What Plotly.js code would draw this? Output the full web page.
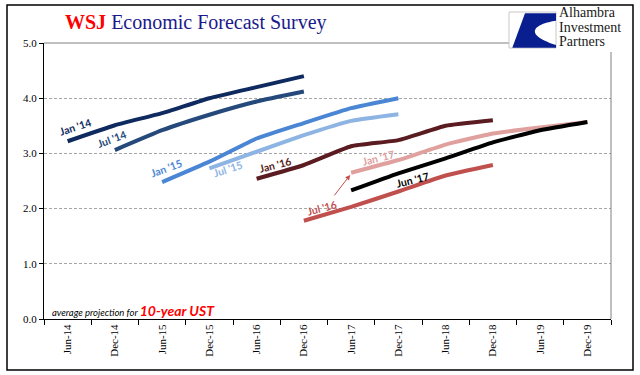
<!DOCTYPE html>
<html><head><meta charset="utf-8">
<script src="https://cdn.plot.ly/plotly-3.0.1.min.js"></script>
<style>html,body{margin:0;padding:0;background:#fff}#chart{width:640px;height:375px}</style>
</head><body><div id="chart"></div>
<script>
// ---- data ----
const categories = ["Jun-14","Dec-14","Jun-15","Dec-15","Jun-16","Dec-16","Jun-17","Dec-17","Jun-18","Dec-18","Jun-19","Dec-19"];
const seriesNames = ["Jan '14","Jul '14","Jan '15","Jul '15","Jan '16","Jul '16","Jan '17","Jun '17"];
const jan14 = [3.22, 3.51, 3.73, 4.00, 4.20, 4.40, null, null, null, null, null, null];
const jul14 = [null, 3.06, 3.42, 3.70, 3.94, 4.12, null, null, null, null, null, null];
const jan15 = [null, null, 2.48, 2.85, 3.27, 3.55, 3.82, 4.00, null, null, null, null];
const jul15 = [null, null, null, 2.73, 3.03, 3.33, 3.59, 3.71, null, null, null, null];
const jan16 = [null, null, null, null, 2.54, 2.79, 3.13, 3.24, 3.50, 3.60, null, null];
const jul16 = [null, null, null, null, null, 1.78, 2.03, 2.31, 2.60, 2.79, null, null];
const jan17 = [null, null, null, null, null, null, 2.65, 2.88, 3.16, 3.36, 3.47, 3.57];
const jun17 = [null, null, null, null, null, null, 2.33, 2.64, 2.91, 3.20, 3.42, 3.57];
const yTicks = [0, 1, 2, 3, 4, 5];
const logoLines = ["Alhambra", "Investment", "Partners"];

const allSeries = [jan14, jul14, jan15, jul15, jan16, jul16, jan17, jun17];
const colors = ["#0E2A5E", "#24497A", "#4A86D4", "#8DB4E2", "#5A1C20", "#C0504D", "#E0A09E", "#000000"];

// pixel helpers for layout (plot area: x 44..611, y 43..319)
const L = 44, R = 611, T = 43, B = 319;
const px = x => (x - L) / (R - L);
const py = y => (B - y) / (B - T);

const traces = allSeries.map((vals, i) => ({
  type: 'scatter', mode: 'lines', x: categories, y: vals, name: seriesNames[i],
  line: {color: colors[i], width: 4, shape: 'spline', smoothing: 0.4},
  connectgaps: false, hoverinfo: 'skip', showlegend: false
}));

// label placement (category index, value, angle)
const labelPos = [
  [0.16, 3.48, -18], [0.94, 3.26, -20], [2.1, 2.74, -20], [3.39, 2.72, -18],
  [4.39, 2.79, -14], [5.38, 2.01, -15], [6.57, 2.92, -14], [7.29, 2.52, -14]
];
const annotations = labelPos.map((p, i) => ({
  xref: 'x', yref: 'y', x: p[0], y: p[1], text: '<b>' + seriesNames[i] + '</b>',
  showarrow: false, textangle: p[2],
  font: {family: 'Lato, sans-serif', size: 10.5, color: colors[i]}
}));
annotations.push({
  xref: 'x', yref: 'y', x: 5.98, y: 2.61, ax: -17, ay: 22, text: '',
  showarrow: true, arrowhead: 2, arrowsize: 1, arrowwidth: 1, arrowcolor: '#C0504D'
});
annotations.push({
  xref: 'paper', yref: 'paper', x: px(63), y: py(23), xanchor: 'left', yanchor: 'middle',
  text: '<span style="color:#FF0000"><b>WSJ</b></span> Economic Forecast Survey',
  showarrow: false, font: {family: 'Liberation Serif, serif', size: 20, color: '#1A1A8C'}
});
annotations.push({
  xref: 'paper', yref: 'paper', x: px(50), y: py(310), xanchor: 'left', yanchor: 'middle',
  text: '<i>average projection for </i><span style="color:#FF0000;font-size:14px"><b><i>10-year UST</i></b></span>',
  showarrow: false, font: {family: 'Lato, sans-serif', size: 9.5, color: '#000'}
});
const logoY = [13, 27.5, 41.5];
logoLines.forEach((t, i) => annotations.push({
  xref: 'paper', yref: 'paper', x: px(557), y: py(logoY[i]), xanchor: 'left', yanchor: 'middle',
  text: t, showarrow: false, font: {family: 'Liberation Serif, serif', size: 14, color: '#1A1A1A'}
}));

const logoPath = 'M ' + px(525) + ',' + py(13.3) +
  ' L ' + px(556) + ',' + py(13.3) +
  ' L ' + px(556) + ',' + py(20.7) +
  ' C ' + px(536) + ',' + py(23.5) + ' ' + px(521) + ',' + py(33.5) + ' ' + px(556) + ',' + py(45) +
  ' L ' + px(556) + ',' + py(47.7) +
  ' L ' + px(512.3) + ',' + py(47.7) + ' Z';

const shapes = [
  {type: 'rect', xref: 'paper', yref: 'paper', x0: px(7), x1: px(633), y0: py(370), y1: py(5), line: {color: '#000', width: 1.5}, layer: 'below'},
  {type: 'line', xref: 'paper', yref: 'paper', x0: 0, x1: px(509), y0: 1, y1: 1, line: {color: '#808080', width: 1}},
  {type: 'line', xref: 'paper', yref: 'paper', x0: 1, x1: 1, y0: 0, y1: py(52), line: {color: '#808080', width: 1}},
  {type: 'rect', xref: 'paper', yref: 'paper', x0: px(509), x1: px(556), y0: py(48), y1: py(12), fillcolor: '#fff', line: {color: '#C8C8C8', width: 1}},
  {type: 'path', xref: 'paper', yref: 'paper', path: logoPath, fillcolor: '#0A1F8F', line: {width: 0}}
];

const layout = {
  width: 640, height: 375,
  margin: {l: L, r: 640 - R, t: T, b: 375 - B, pad: 0},
  paper_bgcolor: '#fff', plot_bgcolor: '#fff',
  showlegend: false,
  xaxis: {
    type: 'category', categoryorder: 'array', categoryarray: categories,
    range: [-0.5, 11.5], tickson: 'boundaries', ticks: 'outside', ticklen: 5, tickcolor: '#000',
    tickangle: -90, showgrid: false, zeroline: false, showline: true, linecolor: '#000', linewidth: 1,
    tickfont: {family: 'Liberation Serif, serif', size: 11, color: '#000'}, fixedrange: true
  },
  yaxis: {
    range: [0, 5], tickvals: yTicks, tickformat: '.1f', ticks: 'outside', ticklen: 4, tickcolor: '#000',
    showgrid: true, gridcolor: '#A6A6A6', griddash: '3px,2px', gridwidth: 1,
    zeroline: false, showline: true, linecolor: '#000', linewidth: 1,
    tickfont: {family: 'Liberation Serif, serif', size: 11, color: '#000'}, fixedrange: true
  },
  annotations: annotations,
  shapes: shapes
};

Plotly.newPlot('chart', traces, layout, {staticPlot: true, displayModeBar: false});
</script>
</body></html>
